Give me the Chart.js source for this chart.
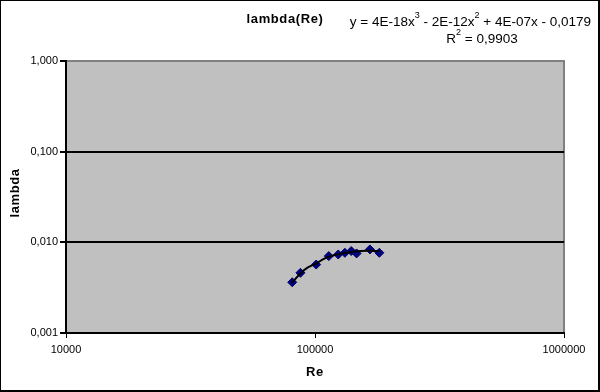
<!DOCTYPE html>
<html>
<head>
<meta charset="utf-8">
<script src="https://cdn.jsdelivr.net/npm/chart.js@4"></script>
<style>
  body { margin: 0; background: #fff; }
</style>
</head>
<body>
<canvas id="myChart" width="600" height="392"></canvas>
<script>
// measured points (Re, lambda)
const re = [81000, 87400, 101100, 113600, 124000, 131800, 139800, 146900, 166200, 181300];
const lambda = [0.00363, 0.00461, 0.00569, 0.00705, 0.00735, 0.00767, 0.00801, 0.00754, 0.00835, 0.00767];

// trend line
const trendRe = [80700, 87400, 93000, 101100, 108500, 115400, 126600, 142900, 162200, 181300];
const trendLambda = [0.00357, 0.00453, 0.00523, 0.00584, 0.00658, 0.00705, 0.00748, 0.00787, 0.00807, 0.00801];

const xTicks = [10000, 100000, 1000000];
const xTickLabels = ["10000", "100000", "1000000"];
const yTicks = [0.001, 0.01, 0.1, 1];
const yTickLabels = ["0,001", "0,010", "0,100", "1,000"];

const FONT = "'Liberation Sans', Arial, sans-serif";

// grey plot area, frame and all the loose texts
const excelLook = {
  id: "excelLook",
  beforeDraw(chart) {
    const c = chart.ctx;
    const a = chart.chartArea;
    c.save();
    c.fillStyle = "#fff";
    c.fillRect(0, 0, chart.width, chart.height);
    c.fillStyle = "#c0c0c0";
    c.fillRect(a.left, a.top, a.right - a.left, a.bottom - a.top);
    c.strokeStyle = "#808080";
    c.lineWidth = 2;
    c.beginPath();
    c.moveTo(a.left, a.top);
    c.lineTo(a.right, a.top);
    c.lineTo(a.right, a.bottom);
    c.stroke();
    c.restore();
  },
  afterDraw(chart) {
    const c = chart.ctx;
    const a = chart.chartArea;
    c.save();
    c.fillStyle = "#000";
    // outer frame
    c.fillRect(0, 0, 600, 1);
    c.fillRect(0, 0, 1, 392);
    c.fillRect(598, 0, 2, 392);
    c.fillRect(0, 390, 600, 2);

    c.textBaseline = "middle";
    c.font = "bold 13px " + FONT;
    c.textAlign = "center";
    c.letterSpacing = "0.6px";
    c.fillText("lambda(Re)", 285, 19);
    c.fillText("Re", (a.left + a.right) / 2, 372);

    c.save();
    c.translate(15, (a.top + a.bottom) / 2 - 4);
    c.rotate(-Math.PI / 2);
    c.fillText("lambda", 0, 0);
    c.restore();
    c.letterSpacing = "0px";

    // equation with superscripts
    const parts = [
      ["y = 4E-18x", false], ["3", true], [" - 2E-12x", false], ["2", true],
      [" + 4E-07x - 0,0179", false]
    ];
    drawParts(c, parts, 591, 22, "right");
    drawParts(c, [["R", false], ["2", true], [" = 0,9903", false]], 482, 39, "center");
    c.restore();
  }
};

function drawParts(c, parts, x, y, align) {
  const normal = "13.5px " + FONT;
  const small = "9px " + FONT;
  let total = 0;
  parts.forEach((p) => {
    c.font = p[1] ? small : normal;
    total += c.measureText(p[0]).width;
  });
  let cx = align === "right" ? x - total : x - total / 2;
  c.textAlign = "left";
  parts.forEach((p) => {
    c.font = p[1] ? small : normal;
    c.fillText(p[0], cx, p[1] ? y - 6 : y);
    cx += c.measureText(p[0]).width;
  });
}

const config = {
  type: "scatter",
  data: {
    datasets: [
      {
        label: "Trend",
        data: trendRe.map((v, i) => ({ x: v, y: trendLambda[i] })),
        showLine: true,
        borderColor: "#000",
        borderWidth: 2,
        tension: 0.4,
        pointRadius: 0,
        order: 0,
      },
      {
        label: "lambda",
        data: re.map((v, i) => ({ x: v, y: lambda[i] })),
        showLine: false,
        pointStyle: "rectRot",
        pointRadius: 4.5,
        backgroundColor: "#000080",
        borderColor: "#000066",
        borderWidth: 1,
        order: 1,
      },
    ],
  },
  options: {
    responsive: false,
    animation: false,
    layout: { padding: { top: 61, right: 36, bottom: 9, left: 0 } },
    plugins: {
      legend: { display: false },
      tooltip: { enabled: false },
    },
    scales: {
      x: {
        type: "logarithmic",
        min: 10000,
        max: 1000000,
        afterBuildTicks: (s) => { s.ticks = xTicks.map((v) => ({ value: v })); },
        afterFit: (s) => { s.height = 50; },
        grid: {
          drawOnChartArea: false,
          tickLength: 5,
          tickColor: "#000",
        },
        border: { color: "#000", width: 2 },
        ticks: {
          color: "#000",
          font: { family: FONT, size: 11 },
          padding: 5,
          maxRotation: 0,
          autoSkip: false,
          callback: (v, i) => xTickLabels[i],
        },
      },
      y: {
        type: "logarithmic",
        min: 0.001,
        max: 1,
        afterBuildTicks: (s) => { s.ticks = yTicks.map((v) => ({ value: v })); },
        afterFit: (s) => { s.width = 66; },
        grid: {
          color: (ctx) => (ctx.tick && (ctx.tick.value === 0.1 || ctx.tick.value === 0.01) ? "#000" : "rgba(0,0,0,0)"),
          lineWidth: 2,
          tickLength: 6,
          tickColor: "#000",
        },
        border: { color: "#000", width: 2 },
        ticks: {
          color: "#000",
          font: { family: FONT, size: 11 },
          padding: 2,
          autoSkip: false,
          callback: (v, i) => yTickLabels[i],
        },
      },
    },
  },
  plugins: [excelLook],
};

const ctx = document.getElementById("myChart").getContext("2d");
const myChart = new Chart(ctx, config);
</script>
</body>
</html>
